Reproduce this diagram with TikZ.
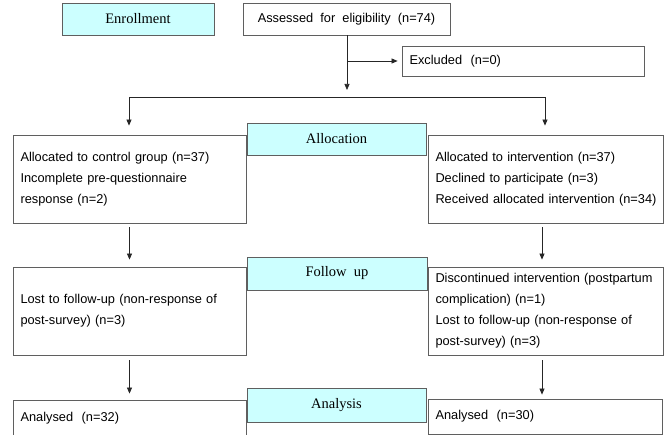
\documentclass[tikz,border=0pt]{standalone}
\usepackage{fontspec}
\setmainfont{Liberation Sans}
\newfontfamily\stagefont{Liberation Serif}
\usetikzlibrary{arrows.meta}
\definecolor{linegray}{RGB}{95,95,95}
\definecolor{stagecyan}{RGB}{204,255,255}
\hbadness=10000 \hfuzz=50pt
\begin{document}
\begin{tikzpicture}[x=1pt,y=-1pt,
  box/.style={draw=linegray, line width=0.8pt, fill=white, inner xsep=7.5pt, inner ysep=0pt,
    font=\fontsize{12.8}{21}\selectfont, align=left},
  stagebox/.style={draw=linegray, line width=0.8pt, fill=stagecyan, inner sep=0pt,
    font=\stagefont\fontsize{14.5}{17}\selectfont},
  arr/.style={draw=black!85, line width=0.7pt, -{Triangle[length=6pt,width=5pt]}},
  conn/.style={draw=black!85, line width=0.7pt}]
\useasboundingbox (0,0) rectangle (670,435);
% stage labels
\node[stagebox, minimum width=152pt, minimum height=32pt] (enr) at (138,19) {Enrollment};
\node[stagebox, minimum width=179pt, minimum height=32pt] (alloc) at (336.5,139) {Allocation};
\node[stagebox, minimum width=180pt, minimum height=33pt] (fol) at (337,273.5) {Follow\ \ up};
\node[stagebox, minimum width=179pt, minimum height=34pt] (ana) at (336.5,405) {Analysis};
% enrollment boxes
\node[box, align=center, minimum width=207pt, minimum height=32pt] (ass) at (346.5,19) {Assessed\ \ for\ \ eligibility\ \ (n=74)};
\node[box, minimum width=242pt, minimum height=30pt, text width=227pt] (exc) at (523,61) {\mbox{Excluded\ \ (n=0)}};
% allocation
\node[box, minimum width=233pt, minimum height=88pt, text width=218pt] (l1) at (129.5,179)
  {\mbox{Allocated to control group (n=37)}\\\mbox{Incomplete pre-questionnaire}\\\mbox{response (n=2)}};
\node[box, minimum width=235pt, minimum height=88pt, text width=220pt] (r1) at (545.5,179)
  {\mbox{Allocated to intervention (n=37)}\\\mbox{Declined to participate (n=3)}\\\mbox{Received allocated intervention (n=34)}};
% follow up
\node[box, minimum width=233pt, minimum height=88pt, text width=218pt] (l2) at (129.5,311)
  {\mbox{Lost to follow-up (non-response of}\\\mbox{post-survey) (n=3)}};
\node[box, minimum width=235pt, minimum height=88pt, text width=220pt] (r2) at (545.5,311)
  {\mbox{Discontinued intervention (postpartum}\\\mbox{complication) (n=1)}\\\mbox{Lost to follow-up (non-response of}\\\mbox{post-survey) (n=3)}};
% analysis
\node[box, minimum width=233pt, minimum height=36pt, text width=218pt] (l3) at (129.5,418)
  {\mbox{Analysed\ \ (n=32)}};
\node[box, minimum width=234pt, minimum height=35pt, text width=219pt] (r3) at (545,416.5)
  {\mbox{Analysed\ \ (n=30)}};
% connectors
\coordinate (jx) at (347,90);
\coordinate (bx) at (347,61);
\coordinate (hl) at (129,97);
\coordinate (hr) at (545,97);
\coordinate (rx) at (542,0);
\draw[arr] (ass.south -| jx) -- (jx);
\draw[arr, shorten >=4pt] (bx) -- (exc.west);
\draw[conn] (hl) -- (hr);
\draw[arr, shorten >=9pt] (hl) -- (l1.north -| hl);
\draw[arr, shorten >=9pt] (hr) -- (r1.north -| hr);
\draw[arr, shorten <=4pt, shorten >=7pt] (l1.south) -- (l2.north);
\draw[arr, shorten <=4pt, shorten >=7pt] (r1.south -| rx) -- (r2.north -| rx);
\draw[arr, shorten <=5pt, shorten >=6pt] (l2.south) -- (l3.north);
\draw[arr, shorten <=5pt, shorten >=4pt] (r2.south -| rx) -- (r3.north -| rx);
\end{tikzpicture}
\end{document}
